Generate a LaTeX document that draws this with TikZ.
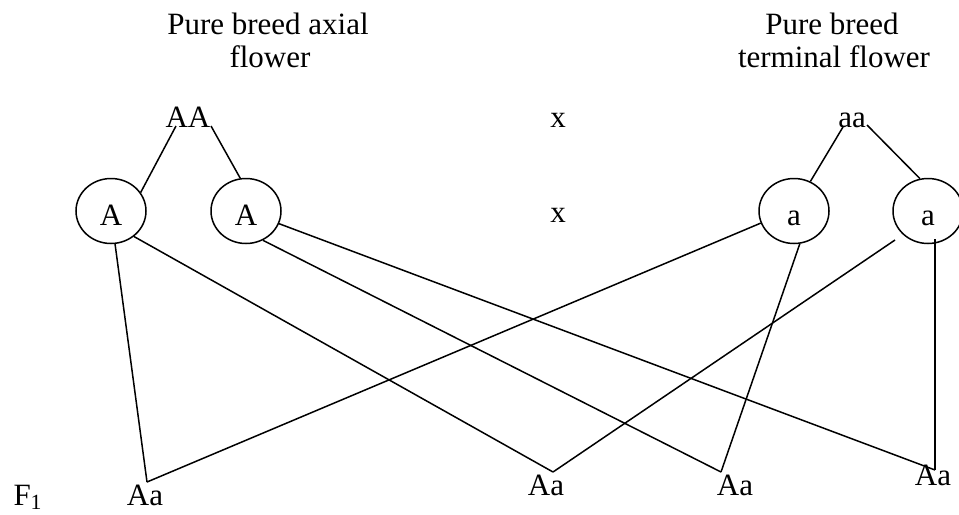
\documentclass[tikz,border=0pt]{standalone}
\usepackage{fontspec}
\setmainfont{Liberation Serif}
\usetikzlibrary{shapes.geometric}
\begin{document}
\begin{tikzpicture}[x=0.4pt,y=-0.4pt,
  every node/.style={font=\fontsize{12.4}{14}\selectfont},
  lbl/.style={anchor=base,inner sep=0pt},
  gamete/.style={draw,line width=0.6pt,ellipse,minimum width=28pt,minimum height=26pt,inner sep=0pt,text height=11.2pt,text depth=0pt},
  link/.style={line width=0.6pt}]
\useasboundingbox (0,0) rectangle (959,514);
% titles
\node[lbl] (t1) at (268,34) {Pure breed axial};
\node[lbl] (t2) at (270,67) {flower};
\node[lbl] (t3) at (832,34) {Pure breed};
\node[lbl] (t4) at (834,67) {terminal flower};
% parents
\node[lbl] (AA) at (188,127) {AA};
\node[lbl] (aa) at (852,127) {aa};
\node[lbl] (x1) at (558,127) {x};
\node[lbl] (x2) at (558,222) {x};
% gametes
\node[gamete] (A1) at (111,211) {A};
\node[gamete] (A2) at (246,211) {A};
\node[gamete] (a1) at (794,211) {a};
\node[gamete] (a2) at (928,211) {a};
% offspring
\node[lbl] (o1) at (145,505) {Aa};
\node[lbl] (o2) at (546,495) {Aa};
\node[lbl] (o3) at (735,495) {Aa};
\node[lbl] (o4) at (933,485) {Aa};
\node[lbl,anchor=base west] (F) at (13,505) {F\textsubscript{1}};
% connector ends
\coordinate (AAl) at (176,126);
\coordinate (AAr) at (211,126);
\coordinate (aal) at (843,127);
\coordinate (aar) at (867,125);
\coordinate (v1) at (147,482);
\coordinate (v2) at (553,472);
\coordinate (v3) at (721,472);
\coordinate (v4) at (935,470);
\coordinate (a2s) at (895,240);
\coordinate (a2b) at (935,239);
% parent to gametes
\draw[link] (AAl) -- (A1.32);
\draw[link] (AAr) -- (A2.100);
\draw[link] (aal) -- (a1.61);
\draw[link] (aar) -- (a2.104);
% gametes to offspring
\draw[link] (A1.-83) -- (v1);
\draw[link] (A1.-48) -- (v2);
\draw[link] (A2.-60) -- (v3);
\draw[link] (A2.-21) -- (v4);
\draw[link] (a1.200) -- (v1);
\draw[link] (a1.-80) -- (v3);
\draw[link] (a2s) -- (v2);
\draw[link] (a2b) -- (v4);
\end{tikzpicture}
\end{document}
